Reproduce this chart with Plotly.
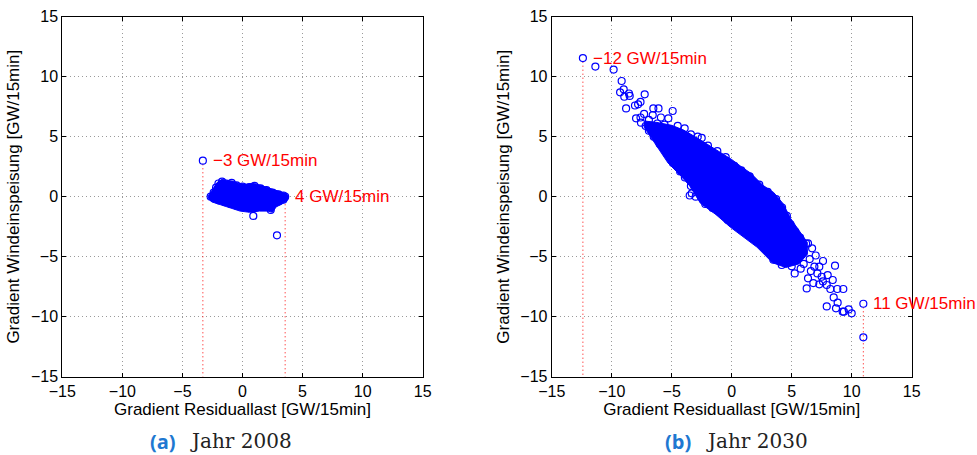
import plotly.graph_objects as go

# ---------------- data ----------------
# (a) Jahr 2008 -- dense core outline and individual points
core08_x = [-2.85, -2.6, -2.35, -2.1, -1.7, -1.3, -0.8, -0.3, 0.3, 1.0, 1.5, 2.2, 2.9, 3.5, 3.85,
            3.75, 3.3, 2.8, 2.5, 2.1, 1.4, 0.6, -0.2, -1.0, -1.8, -2.5, -2.8]
core08_y = [0.05, 0.45, 0.85, 1.2, 1.45, 1.35, 1.3, 1.1, 1.05, 1.1, 0.95, 0.7, 0.45, 0.3, 0.05,
            -0.3, -0.6, -0.85, -1.3, -1.2, -1.2, -1.3, -1.2, -0.95, -0.7, -0.45, -0.2]
pts08_x = [-2.65, -2.4, -2.2, -2.0, -1.7, -1.35, -0.9, -0.5, 0.0, 0.6, 1.0, 1.5, 2.0, 2.5, 3.0, 3.4,
           3.55, 3.4, 3.0, 2.35, 2.0, 1.5, 1.0, 0.5, 0.0, -0.5, -1.0, -1.5, -2.0, -2.4,
           0.9, 2.87, -3.3]
pts08_y = [0.0, 0.35, 0.75, 1.1, 1.25, 1.1, 1.15, 0.95, 0.85, 0.8, 0.9, 0.7, 0.55, 0.35, 0.2, 0.1,
           0.0, -0.25, -0.4, -1.1, -0.85, -0.85, -0.95, -0.95, -0.85, -0.75, -0.6, -0.45, -0.3, -0.15,
           -1.6, -3.22, 3.0]

# (b) Jahr 2030
core30_x = [-7.2, -6.3, -5.0, -4.0, -2.8, -1.5, 0.0, 0.8, 1.6, 2.6, 3.5, 4.3, 4.9, 5.6, 6.3,
            6.3, 5.6, 4.5, 3.4, 2.1, 0.9, -0.1, -1.3, -2.6, -3.5, -4.3, -5.3, -6.2, -6.9, -7.3]
core30_y = [6.3, 6.2, 5.95, 5.55, 4.85, 4.05, 3.1, 2.5, 1.95, 0.95, 0.35, -0.6, -1.8, -2.8, -3.8,
            -4.8, -5.6, -5.9, -5.5, -4.2, -3.3, -2.55, -1.5, -0.55, 0.9, 1.8, 2.8, 4.1, 5.2, 5.8]
pts30_x = [-12.4, -11.36, -9.84, -9.17, -9.3, -9.0, -8.95, -8.56, -8.5, -7.25, -8.8, -8.06, -7.8,
           -7.6, -7.97, -7.56, -7.17, -6.53, -6.1, -4.92, -5.28, -5.9, -6.58, -7.3, -6.9, -7.6,
           -6.2, -3.92, -2.83, -1.98, 0.22, -4.5, -5.6, -3.4, -2.5, -1.2, -0.5, 0.8, 1.5, 2.3,
           3.0, 3.7, 4.2, 4.6, 4.9, 5.3, 5.7, 6.2, 6.36, 6.0,
           -6.9, -6.5, -6.0, -5.4, -4.9, -4.3, -3.9, -3.4, -3.33, -3.5, -3.0, -2.42, -2.2, -1.6,
           -1.0, -0.33, 0.3, 1.0, 1.8, 2.5, 3.0, 3.5, 4.17, 3.47, 4.7,
           6.25, 7.61, 6.89, 7.3, 8.61, 8.0, 8.42, 7.92, 8.22, 8.8, 9.3, 8.5, 8.83, 8.69, 7.92,
           9.25, 9.35, 9.75, 10.0, 10.97, 10.97, 7.14, 7.5, 7.6, 6.8, 6.36, 5.25, 5.75, 6.5, 7.0,
           6.7, 6.0, 5.0, 6.6, 7.3, 5.5]
pts30_y = [11.55, 10.84, 10.59, 9.64, 8.7, 8.95, 8.33, 8.6, 8.4, 8.53, 7.36, 7.6, 7.7,
           7.9, 6.53, 6.17, 5.89, 7.36, 7.36, 7.14, 6.53, 6.6, 6.8, 6.9, 6.4, 6.6,
           6.1, 5.7, 5.0, 4.25, 2.58, 5.9, 6.0, 5.2, 4.9, 3.8, 3.3, 2.2, 1.7, 1.0,
           0.4, -0.2, -0.9, -1.6, -2.3, -2.9, -3.4, -3.9, -3.89, -4.6,
           5.5, 5.0, 4.4, 3.6, 2.8, 2.1, 1.6, 0.9, 0.28, 0.1, 0.0, -0.19, -0.6, -0.95,
           -1.3, -1.94, -2.3, -2.8, -3.4, -4.0, -4.5, -5.1, -5.69, -5.25, -5.4,
           -7.64, -5.36, -5.83, -5.83, -5.75, -6.53, -6.94, -7.36, -7.69, -7.69, -7.69, -8.39, -8.83, -9.3, -9.14,
           -9.58, -9.58, -9.39, -9.72, -8.92, -11.72, -6.39, -6.67, -7.06, -7.2, -6.8, -6.39, -6.0, -5.2, -4.9,
           -4.3, -5.6, -5.8, -6.2, -7.3, -4.8]

# extreme-value markers (dotted red lines) and their labels
ext08_x = [-3.3, 3.55]
ext08_ytop = [3.0, 0.0]
ext08_lbl = ["\u22123 GW/15min", "4 GW/15min"]
lbl08_pos = [(-2.6, 3.0), (4.2, 0.0)]
ext30_x = [-12.4, 10.97]
ext30_ytop = [11.55, -8.92]
ext30_lbl = ["\u221212 GW/15min", "11 GW/15min"]
lbl30_pos = [(-11.7, 11.55), (11.6, -8.92)]

tick_vals = [-15, -10, -5, 0, 5, 10, 15]
tick_text = ["\u221215", "\u221210", "\u22125", "0", "5", "10", "15"]
captions = [("(a)", "Jahr 2008"), ("(b)", "Jahr 2030")]

BLUE = "#0000ff"
RED = "#ff0000"
W, H = 977, 455

fig = go.Figure()

def add_panel(xa, ya, core_x, core_y, px, py, ex, ey, lbls, lpos):
    # dotted red vertical lines
    for x0, y0 in zip(ex, ey):
        fig.add_trace(go.Scatter(x=[x0, x0], y=[y0 - 0.3, -15], mode="lines",
                                 line=dict(color=RED, width=1, dash="1px,3px"),
                                 xaxis=xa, yaxis=ya, hoverinfo="skip", showlegend=False))
    # dense core
    fig.add_trace(go.Scatter(x=core_x + [core_x[0]], y=core_y + [core_y[0]], mode="lines",
                             fill="toself", fillcolor=BLUE, line=dict(color=BLUE, width=1),
                             xaxis=xa, yaxis=ya, hoverinfo="skip", showlegend=False))
    # individual points
    fig.add_trace(go.Scatter(x=px, y=py, mode="markers",
                             marker=dict(symbol="circle-open", size=7, color=BLUE,
                                         line=dict(width=1.2, color=BLUE)),
                             xaxis=xa, yaxis=ya, showlegend=False))
    for t, (lx, ly) in zip(lbls, lpos):
        fig.add_annotation(x=lx, y=ly, xref=xa, yref=ya, text=t, showarrow=False,
                           xanchor="left", yanchor="middle",
                           font=dict(family="Liberation Sans, Arial", size=17, color=RED))

add_panel("x", "y", core08_x, core08_y, pts08_x, pts08_y, ext08_x, ext08_ytop, ext08_lbl, lbl08_pos)
add_panel("x2", "y2", core30_x, core30_y, pts30_x, pts30_y, ext30_x, ext30_ytop, ext30_lbl, lbl30_pos)

ydom = [1 - 376.7 / H, 1 - 16.7 / H]
axis_common = dict(range=[-15, 15], tickvals=tick_vals, ticktext=tick_text,
                   showline=True, linecolor="black", linewidth=1, mirror="ticks",
                   ticks="inside", ticklen=4, tickcolor="black", automargin=False,
                   showgrid=True, gridcolor="#9a9a9a", gridwidth=1, griddash="1px,3px",
                   zeroline=False,
                   tickfont=dict(family="Liberation Sans, Arial", size=16, color="black"))
xt = dict(text="Gradient Residuallast [GW/15min]",
          font=dict(family="Liberation Sans, Arial", size=17, color="black"), standoff=2)
yt = dict(text="Gradient Windeinspeisung [GW/15min]",
          font=dict(family="Liberation Sans, Arial", size=17, color="black"), standoff=6)

fig.update_layout(
    width=W, height=H, margin=dict(l=0, r=0, t=0, b=0, autoexpand=False),
    paper_bgcolor="white", plot_bgcolor="white", showlegend=False,
    xaxis=dict(domain=[62.3 / W, 422.7 / W], anchor="y", title=xt, **axis_common),
    yaxis=dict(domain=ydom, anchor="x", title=yt, **axis_common),
    xaxis2=dict(domain=[551.7 / W, 911.7 / W], anchor="y2", title=xt, **axis_common),
    yaxis2=dict(domain=ydom, anchor="x2", title=yt, **axis_common),
)

cap_y = 1 - 441 / H
cap_pos = [(148, 188), (663, 704)]
for (lab, txt), (xa, xb) in zip(captions, cap_pos):
    fig.add_annotation(x=xa / W, y=cap_y, xref="paper", yref="paper", text="<b>" + lab + "</b>",
                       showarrow=False, xanchor="left", yanchor="middle",
                       font=dict(family="Open Sans", size=20, color="#1f78d1"))
    fig.add_annotation(x=xb / W, y=cap_y, xref="paper", yref="paper", text=txt,
                       showarrow=False, xanchor="left", yanchor="middle",
                       font=dict(family="DejaVu Serif", size=20, color="#222222"))

fig.write_html("out.html")
